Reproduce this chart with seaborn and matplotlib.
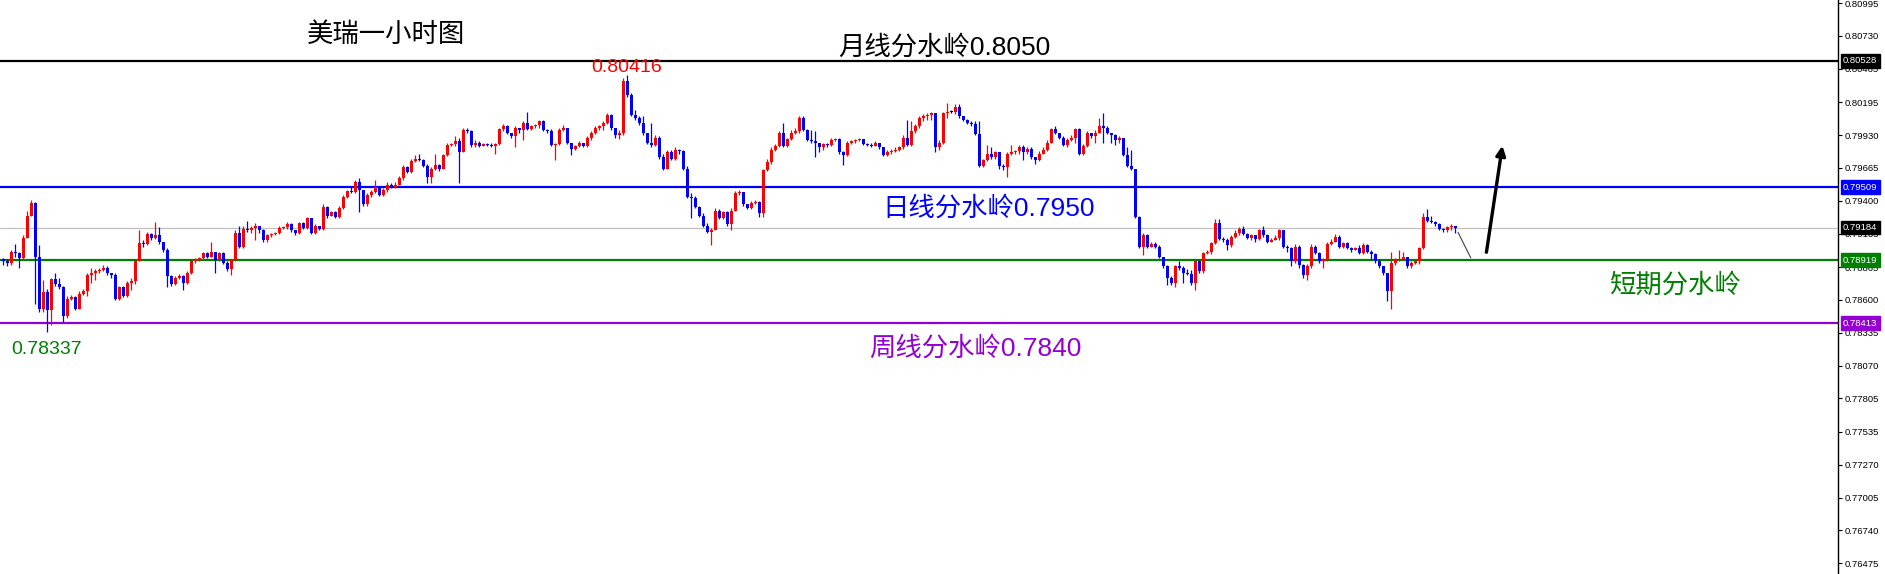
import numpy as np
import pandas as pd
import seaborn as sns
import matplotlib
matplotlib.use("Agg")
import matplotlib.pyplot as plt
import matplotlib.transforms as mtransforms
from matplotlib.patches import FancyArrowPatch

# USD/CHF 1-hour candles (open = previous close)
first_open = 0.7893
closes = [
    0.7891, 0.7890, 0.7899, 0.7898, 0.7894, 0.7910, 0.7928, 0.7938, 0.7895, 0.7853,
    0.7866, 0.7852, 0.7877, 0.7873, 0.7870, 0.7847, 0.7861, 0.7862, 0.7853, 0.7865,
    0.7867, 0.7880, 0.7882, 0.7883, 0.7884, 0.7886, 0.7882, 0.7880, 0.7861, 0.7870,
    0.7863, 0.7874, 0.7875, 0.7891, 0.7906, 0.7905, 0.7913, 0.7910, 0.7912, 0.7907,
    0.7900, 0.7879, 0.7873, 0.7878, 0.7879, 0.7874, 0.7882, 0.7891, 0.7893, 0.7894,
    0.7898, 0.7895, 0.7899, 0.7892, 0.7898, 0.7890, 0.7885, 0.7892, 0.7914, 0.7903,
    0.7917, 0.7916, 0.7918, 0.7920, 0.7916, 0.7908, 0.7912, 0.7913, 0.7914, 0.7918,
    0.7919, 0.7921, 0.7916, 0.7914, 0.7922, 0.7918, 0.7926, 0.7914, 0.7920, 0.7917,
    0.7935, 0.7928, 0.7931, 0.7927, 0.7934, 0.7943, 0.7948, 0.7947, 0.7955, 0.7949,
    0.7937, 0.7945, 0.7947, 0.7951, 0.7945, 0.7949, 0.7953, 0.7951, 0.7953, 0.7958,
    0.7967, 0.7963, 0.7972, 0.7974, 0.7973, 0.7968, 0.7959, 0.7966, 0.7969, 0.7966,
    0.7977, 0.7985, 0.7986, 0.7988, 0.7979, 0.7997, 0.7996, 0.7985, 0.7987, 0.7984,
    0.7986, 0.7985, 0.7984, 0.7986, 0.7998, 0.8000, 0.7995, 0.7992, 0.7999, 0.7997,
    0.8003, 0.7998, 0.8000, 0.8001, 0.8004, 0.7997, 0.7996, 0.7985, 0.7986, 0.7997,
    0.7999, 0.7987, 0.7982, 0.7984, 0.7987, 0.7984, 0.7991, 0.7995, 0.7999, 0.8000,
    0.8003, 0.8009, 0.7999, 0.7993, 0.7995, 0.8037, 0.8025, 0.8009, 0.8007, 0.8003,
    0.7995, 0.7987, 0.7985, 0.7991, 0.7975, 0.7966, 0.7979, 0.7974, 0.7981, 0.7980,
    0.7966, 0.7943, 0.7942, 0.7935, 0.7928, 0.7920, 0.7915, 0.7916, 0.7932, 0.7926,
    0.7931, 0.7921, 0.7932, 0.7946, 0.7947, 0.7937, 0.7934, 0.7938, 0.7939, 0.7930,
    0.7965, 0.7971, 0.7981, 0.7984, 0.7995, 0.7984, 0.7990, 0.7995, 0.7996, 0.8007,
    0.7997, 0.7989, 0.7988, 0.7987, 0.7983, 0.7986, 0.7985, 0.7989, 0.7990, 0.7979,
    0.7977, 0.7987, 0.7988, 0.7989, 0.7990, 0.7986, 0.7985, 0.7984, 0.7987, 0.7983,
    0.7977, 0.7979, 0.7980, 0.7981, 0.7983, 0.7991, 0.7985, 0.7996, 0.8000, 0.8007,
    0.8008, 0.8009, 0.8011, 0.7983, 0.7987, 0.8011, 0.8012, 0.8012, 0.8016, 0.8008,
    0.8005, 0.8003, 0.8002, 0.7994, 0.7968, 0.7973, 0.7978, 0.7975, 0.7979, 0.7968,
    0.7967, 0.7978, 0.7979, 0.7980, 0.7983, 0.7979, 0.7982, 0.7975, 0.7973, 0.7978,
    0.7981, 0.7987, 0.7998, 0.7995, 0.7991, 0.7985, 0.7989, 0.7991, 0.7998, 0.7978,
    0.7984, 0.7995, 0.7992, 0.7995, 0.8000, 0.7999, 0.7995, 0.7993, 0.7989, 0.7991,
    0.7977, 0.7968, 0.7966, 0.7927, 0.7903, 0.7912, 0.7903, 0.7905, 0.7903, 0.7895,
    0.7887, 0.7878, 0.7874, 0.7887, 0.7886, 0.7882, 0.7881, 0.7874, 0.7891, 0.7883,
    0.7898, 0.7899, 0.7906, 0.7922, 0.7909, 0.7908, 0.7904, 0.7911, 0.7914, 0.7917,
    0.7913, 0.7910, 0.7912, 0.7909, 0.7916, 0.7912, 0.7907, 0.7908, 0.7910, 0.7916,
    0.7903, 0.7902, 0.7891, 0.7903, 0.7888, 0.7880, 0.7887, 0.7903, 0.7898, 0.7891,
    0.7892, 0.7905, 0.7907, 0.7911, 0.7903, 0.7906, 0.7902, 0.7900, 0.7902, 0.7898,
    0.7904, 0.7899, 0.7897, 0.7891, 0.7887, 0.7882, 0.7867, 0.7890, 0.7892, 0.7893,
    0.7895, 0.7887, 0.7890, 0.7891, 0.7902, 0.7927, 0.7924, 0.7923, 0.7921, 0.7917,
    0.7916, 0.7919, 0.7920, 0.7918,
]
highs = [
    0.7894, 0.7893, 0.7900, 0.7905, 0.7899, 0.7912, 0.7932, 0.7941, 0.7939, 0.7904,
    0.7876, 0.7869, 0.7878, 0.7882, 0.7878, 0.7871, 0.7863, 0.7864, 0.7863, 0.7867,
    0.7869, 0.7882, 0.7886, 0.7885, 0.7886, 0.7888, 0.7887, 0.7882, 0.7882, 0.7871,
    0.7871, 0.7875, 0.7878, 0.7892, 0.7916, 0.7908, 0.7915, 0.7914, 0.7923, 0.7919,
    0.7907, 0.7902, 0.7880, 0.7879, 0.7881, 0.7880, 0.7883, 0.7892, 0.7894, 0.7895,
    0.7899, 0.7899, 0.7907, 0.7899, 0.7899, 0.7899, 0.7891, 0.7893, 0.7916, 0.7920,
    0.7920, 0.7924, 0.7920, 0.7922, 0.7918, 0.7917, 0.7913, 0.7914, 0.7915, 0.7920,
    0.7920, 0.7923, 0.7922, 0.7916, 0.7923, 0.7923, 0.7927, 0.7926, 0.7921, 0.7920,
    0.7937, 0.7936, 0.7932, 0.7932, 0.7936, 0.7945, 0.7949, 0.7951, 0.7957, 0.7958,
    0.7949, 0.7946, 0.7949, 0.7957, 0.7952, 0.7950, 0.7955, 0.7954, 0.7955, 0.7960,
    0.7969, 0.7968, 0.7974, 0.7977, 0.7978, 0.7974, 0.7970, 0.7967, 0.7978, 0.7970,
    0.7978, 0.7987, 0.7987, 0.7992, 0.7991, 0.7999, 0.7999, 0.7997, 0.7989, 0.7988,
    0.7987, 0.7987, 0.7987, 0.7987, 0.7999, 0.8002, 0.8001, 0.7995, 0.8000, 0.7999,
    0.8004, 0.8012, 0.8001, 0.8002, 0.8005, 0.8005, 0.7998, 0.7998, 0.7987, 0.7999,
    0.8001, 0.7999, 0.7987, 0.7985, 0.7988, 0.7987, 0.7992, 0.7996, 0.8000, 0.8001,
    0.8004, 0.8011, 0.8010, 0.7999, 0.7997, 0.8039, 0.80416, 0.8027, 0.8013, 0.8008,
    0.8008, 0.7995, 0.8003, 0.7993, 0.7992, 0.7978, 0.7981, 0.7981, 0.7983, 0.7982,
    0.7981, 0.7968, 0.7946, 0.7944, 0.7936, 0.7930, 0.7922, 0.7918, 0.7934, 0.7933,
    0.7932, 0.7932, 0.7934, 0.7948, 0.7949, 0.7947, 0.7937, 0.7940, 0.7941, 0.7940,
    0.7966, 0.7974, 0.7983, 0.7986, 0.7996, 0.8003, 0.7991, 0.7997, 0.7999, 0.8008,
    0.8008, 0.7998, 0.7997, 0.7996, 0.7987, 0.7987, 0.7987, 0.7991, 0.7991, 0.7991,
    0.7980, 0.7988, 0.7989, 0.7990, 0.7991, 0.7989, 0.7987, 0.7987, 0.7988, 0.7987,
    0.7983, 0.7981, 0.7982, 0.7983, 0.7984, 0.7993, 0.8005, 0.8004, 0.8002, 0.8008,
    0.8010, 0.8011, 0.8012, 0.8010, 0.7989, 0.8012, 0.8019, 0.8013, 0.8018, 0.8018,
    0.8008, 0.8006, 0.8004, 0.8004, 0.8004, 0.7974, 0.7985, 0.7983, 0.7980, 0.7979,
    0.7970, 0.7979, 0.7985, 0.7981, 0.7985, 0.7985, 0.7983, 0.7983, 0.7974, 0.7980,
    0.7983, 0.7989, 0.7999, 0.8000, 0.7995, 0.7992, 0.7991, 0.7993, 0.7999, 0.7999,
    0.7986, 0.7996, 0.7995, 0.7997, 0.8007, 0.8011, 0.8000, 0.7995, 0.7994, 0.7992,
    0.7991, 0.7983, 0.7981, 0.7966, 0.7928, 0.7914, 0.7913, 0.7907, 0.7907, 0.7904,
    0.7895, 0.7888, 0.7879, 0.7888, 0.7891, 0.7887, 0.7885, 0.7884, 0.7893, 0.7892,
    0.7899, 0.7900, 0.7907, 0.7925, 0.7925, 0.7911, 0.7910, 0.7912, 0.7916, 0.7919,
    0.7920, 0.7914, 0.7913, 0.7912, 0.7917, 0.7920, 0.7913, 0.7910, 0.7912, 0.7917,
    0.7916, 0.7904, 0.7903, 0.7905, 0.7904, 0.7889, 0.7889, 0.7905, 0.7904, 0.7899,
    0.7894, 0.7907, 0.7909, 0.7913, 0.7912, 0.7907, 0.7907, 0.7903, 0.7903, 0.7904,
    0.7906, 0.7905, 0.7900, 0.7898, 0.7893, 0.7887, 0.7882, 0.7899, 0.7894, 0.7900,
    0.7899, 0.7895, 0.7891, 0.7892, 0.7903, 0.7930, 0.7933, 0.7928, 0.7924, 0.7922,
    0.7918, 0.7920, 0.7921, 0.7920,
]
lows = [
    0.7888, 0.7887, 0.7888, 0.7895, 0.7886, 0.7892, 0.7910, 0.7928, 0.7857, 0.7850,
    0.7850, 0.78337, 0.7840, 0.7871, 0.7869, 0.7842, 0.7845, 0.7860, 0.7852, 0.7853,
    0.7864, 0.7863, 0.7874, 0.7876, 0.7882, 0.7883, 0.7880, 0.7878, 0.7860, 0.7860,
    0.7862, 0.7862, 0.7868, 0.7873, 0.7891, 0.7903, 0.7904, 0.7908, 0.7909, 0.7905,
    0.7899, 0.7870, 0.7871, 0.7872, 0.7877, 0.7868, 0.7873, 0.7881, 0.7890, 0.7891,
    0.7892, 0.7894, 0.7895, 0.7882, 0.7891, 0.7889, 0.7883, 0.7880, 0.7891, 0.7902,
    0.7902, 0.7915, 0.7914, 0.7908, 0.7914, 0.7907, 0.7907, 0.7911, 0.7912, 0.7913,
    0.7917, 0.7917, 0.7915, 0.7912, 0.7913, 0.7917, 0.7917, 0.7913, 0.7913, 0.7916,
    0.7916, 0.7926, 0.7928, 0.7926, 0.7926, 0.7933, 0.7942, 0.7946, 0.7946, 0.7931,
    0.7936, 0.7936, 0.7943, 0.7946, 0.7944, 0.7944, 0.7947, 0.7950, 0.7950, 0.7953,
    0.7957, 0.7962, 0.7962, 0.7971, 0.7972, 0.7967, 0.7954, 0.7954, 0.7965, 0.7964,
    0.7966, 0.7976, 0.7984, 0.7984, 0.7954, 0.7979, 0.7995, 0.7983, 0.7983, 0.7983,
    0.7985, 0.7984, 0.7983, 0.7978, 0.7985, 0.7996, 0.7994, 0.7991, 0.7983, 0.7995,
    0.7989, 0.7997, 0.7997, 0.7999, 0.7999, 0.7996, 0.7995, 0.7984, 0.7973, 0.7985,
    0.7996, 0.7986, 0.7977, 0.7981, 0.7983, 0.7983, 0.7983, 0.7989, 0.7994, 0.7997,
    0.7997, 0.8002, 0.7997, 0.7991, 0.7990, 0.7993, 0.8024, 0.8008, 0.8005, 0.8001,
    0.7993, 0.7986, 0.7983, 0.7984, 0.7974, 0.7965, 0.7966, 0.7973, 0.7973, 0.7978,
    0.7965, 0.7942, 0.7926, 0.7934, 0.7927, 0.7919, 0.7914, 0.7904, 0.7916, 0.7925,
    0.7925, 0.7920, 0.7916, 0.7932, 0.7945, 0.7936, 0.7933, 0.7933, 0.7937, 0.7927,
    0.7927, 0.7964, 0.7970, 0.7980, 0.7983, 0.7983, 0.7983, 0.7989, 0.7994, 0.7995,
    0.7996, 0.7988, 0.7987, 0.7975, 0.7979, 0.7981, 0.7983, 0.7984, 0.7988, 0.7978,
    0.7969, 0.7976, 0.7986, 0.7987, 0.7988, 0.7985, 0.7984, 0.7983, 0.7984, 0.7982,
    0.7976, 0.7976, 0.7978, 0.7979, 0.7980, 0.7982, 0.7984, 0.7984, 0.7995, 0.7999,
    0.8004, 0.8005, 0.8005, 0.7979, 0.7981, 0.7986, 0.8007, 0.8011, 0.8010, 0.8007,
    0.8004, 0.8002, 0.8000, 0.7993, 0.7967, 0.7967, 0.7972, 0.7974, 0.7974, 0.7966,
    0.7965, 0.7959, 0.7977, 0.7978, 0.7978, 0.7973, 0.7978, 0.7974, 0.7970, 0.7972,
    0.7978, 0.7980, 0.7987, 0.7994, 0.7990, 0.7984, 0.7983, 0.7988, 0.7987, 0.7977,
    0.7977, 0.7983, 0.7991, 0.7987, 0.7995, 0.7987, 0.7994, 0.7987, 0.7985, 0.7987,
    0.7976, 0.7967, 0.7965, 0.7926, 0.7902, 0.7896, 0.7902, 0.7903, 0.7902, 0.7894,
    0.7886, 0.7872, 0.7872, 0.7870, 0.7884, 0.7874, 0.7880, 0.7872, 0.7868, 0.7882,
    0.7882, 0.7897, 0.7897, 0.7905, 0.7908, 0.7907, 0.7900, 0.7903, 0.7910, 0.7912,
    0.7912, 0.7909, 0.7908, 0.7907, 0.7908, 0.7911, 0.7906, 0.7907, 0.7908, 0.7908,
    0.7902, 0.7899, 0.7887, 0.7890, 0.7886, 0.7878, 0.7876, 0.7886, 0.7897, 0.7890,
    0.7886, 0.7891, 0.7904, 0.7907, 0.7902, 0.7902, 0.7901, 0.7899, 0.7900, 0.7897,
    0.7897, 0.7898, 0.7893, 0.7890, 0.7886, 0.7880, 0.7859, 0.7853, 0.7888, 0.7891,
    0.7892, 0.7886, 0.7886, 0.7889, 0.7889, 0.7901, 0.7923, 0.7922, 0.7920, 0.7916,
    0.7915, 0.7915, 0.7916, 0.7914,
]

# horizontal levels drawn on the chart
level_prices = [0.80528, 0.79509, 0.78919, 0.78413]
level_colors = ["#000000", "#0000FF", "#008000", "#9400D3"]
bid_price = 0.79184

tick_values = [0.80995, 0.80730, 0.80465, 0.80195, 0.79930, 0.79665, 0.79400, 0.79135,
               0.78865, 0.78600, 0.78335, 0.78070, 0.77805, 0.77535, 0.77270, 0.77005,
               0.76740, 0.76475]

df = pd.DataFrame({"close": closes, "high": highs, "low": lows})
df["open"] = df["close"].shift(1).fillna(first_open)
df["high"] = df[["high", "open", "close"]].max(axis=1)
df["low"] = df[["low", "open", "close"]].min(axis=1)
df["x"] = np.arange(len(df))
df["color"] = np.where(df["close"] > df["open"], "#FF0000",
                       np.where(df["close"] < df["open"], "#0000FF", "#000000"))

sns.set_style("white")
plt.rcParams["font.family"] = ["Liberation Sans", "Noto Sans CJK SC", "DejaVu Sans"]

W, H = 1885, 574
fig = plt.figure(figsize=(W / 100, H / 100), dpi=100)
ax = fig.add_axes([0, 0, 1838 / W, 1])

# candles: wicks then bodies
ax.vlines(df["x"], df["low"], df["high"], colors=df["color"], linewidth=0.9, zorder=3)
body_bottom = df[["open", "close"]].min(axis=1)
body_height = (df["close"] - df["open"]).abs().clip(lower=0.00008)
ax.bar(df["x"], body_height, bottom=body_bottom, width=0.78, color=df["color"],
       linewidth=0, zorder=4)

# support / resistance lines
for p, c in zip(level_prices, level_colors):
    ax.axhline(p, color=c, linewidth=1.6, zorder=2)
ax.axhline(bid_price, color="#C0C0C0", linewidth=0.9, zorder=1)

ax.set_xlim(-0.83, 458.7)
ax.set_ylim(0.76388, 0.81020)

# right price scale
sns.despine(ax=ax, left=True, top=True, bottom=True, right=False)
ax.spines["right"].set_color("black")
ax.spines["right"].set_linewidth(1.0)
ax.set_xticks([])
ax.yaxis.tick_right()
ax.set_yticks(tick_values)
ax.set_yticklabels([f"{v:.5f}" for v in tick_values])
ax.tick_params(axis="y", right=True, left=False, labelright=True, labelleft=False,
               direction="out", length=3, width=0.8, pad=2, labelsize=6.8, colors="black")

# coloured price tags on the scale
blend = mtransforms.blended_transform_factory(ax.transAxes, ax.transData)
tags = list(zip(level_prices, level_colors)) + [(bid_price, "#000000")]
for p, c in tags:
    ax.text(1.0 + 5 / 1838, p, f"{p:.5f}", transform=blend, ha="left", va="center",
            fontsize=6.8, color="white", zorder=10, clip_on=False,
            bbox=dict(boxstyle="square,pad=0.25", facecolor=c, edgecolor=c))

# annotations
def fpos(x, y):
    return x / W, 1 - y / H

big = 19
fig.text(*fpos(386, 35), "美瑞一小时图", fontsize=big, color="black", ha="center", va="center")
fig.text(*fpos(944, 47), "月线分水岭0.8050", fontsize=big, color="black", ha="center", va="center")
fig.text(*fpos(989, 208), "日线分水岭0.7950", fontsize=big, color="#0000FF", ha="center", va="center")
fig.text(*fpos(1675, 285), "短期分水岭", fontsize=big, color="#008000", ha="center", va="center")
fig.text(*fpos(975, 348), "周线分水岭0.7840", fontsize=big, color="#9400D3", ha="center", va="center")
fig.text(*fpos(627, 68), "0.80416", fontsize=14, color="#FF0000", ha="center", va="center")
fig.text(*fpos(47, 350), "0.78337", fontsize=14, color="#008000", ha="center", va="center")

# projected path: dip to the short-term level, then up
n = len(df)
ax.add_patch(FancyArrowPatch((n - 0.6, bid_price - 0.0002), (n + 3.2, level_prices[2]),
                             arrowstyle="-", color="#404040", linewidth=0.8, zorder=5))
ax.add_patch(FancyArrowPatch((n + 6.7, 0.78962), (n + 10.9, 0.79866),
                             arrowstyle="-|>", mutation_scale=14, color="black",
                             linewidth=2.4, zorder=5))

fig.savefig("out.png", dpi=100)
